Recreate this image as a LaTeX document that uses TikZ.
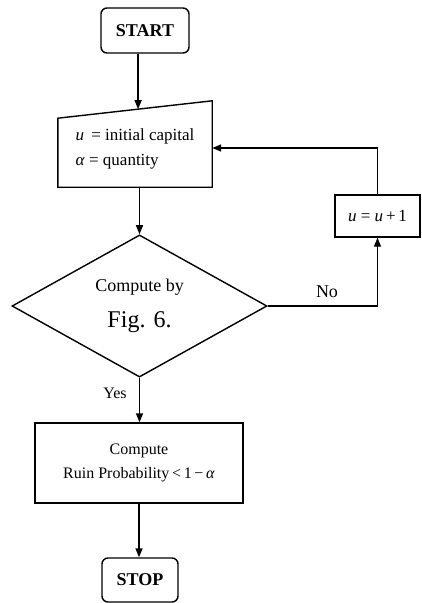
\documentclass[tikz,border=0pt]{standalone}
\usepackage{fontspec}
\setmainfont{Liberation Serif}
\usetikzlibrary{shapes.geometric,arrows.meta,calc}

\begin{document}
\begin{tikzpicture}[
		x=1pt, y=-1pt,
		font=\fontsize{17}{25}\selectfont,
		term/.style={draw, rounded corners=6pt, line width=1.4pt, inner sep=0pt,
			font=\fontsize{18}{20}\selectfont\bfseries},
		box/.style={draw, line width=1.4pt, align=center, inner sep=0pt},
		arr/.style={-{Triangle[length=9pt, width=7pt]}, line width=1.4pt}
		]
		\useasboundingbox (0,0) rectangle (422,603);
		\node[term, minimum width=88pt, minimum height=45pt] (start) at (145,30.5) {START};
		% input block (slanted top drawn below)
		\node[minimum width=154pt, minimum height=86pt, inner sep=0pt] (inp) at (135,144) {};
		\node[align=left, inner sep=0pt] (inptxt) at (135,149)
		{\textit{u}\, = initial capital\\\textit{α} = quantity};
		\draw[line width=1.4pt] ($(inp.south west)+(0,-69)$) -- (inp.north east)
			-- (inp.south east) -- (inp.south west) -- cycle;
		\coordinate (intop) at ($($(inp.south west)+(0,-69)$)!0.52!(inp.north east)$);
		\node[draw, diamond, line width=1.4pt, minimum width=255pt, minimum height=134pt,
			inner sep=0pt, align=center, font=\fontsize{18}{36}\selectfont] (dec) at (139.5,306)
		{Compute by\\{\fontsize{24}{26}\selectfont Fig. 6.}};
		\node[box, minimum width=85pt, minimum height=42pt] (inc) at (377.5,216)
		{\textit{u} = \textit{u}\,+\,1};
		\node[box, minimum width=208pt, minimum height=80pt,
			font=\fontsize{16}{24}\selectfont] (comp) at (139,463)
		{Compute\\Ruin Probability\,<\,1\,−\,\textit{α}};
		\node[term, minimum width=76pt, minimum height=44pt] (stop) at (140,580) {STOP};
		\draw[arr] (start.south -| intop) -- (intop);
		\draw[arr] (inp.south -| dec.north) -- (dec.north);
		\draw[arr] (dec.south) -- (comp.north -| dec.south);
		\draw[arr] (comp.south) -- (stop.north -| comp.south);
		\draw[arr] (dec.east) -| (inc.south);
		\draw[arr] (inc.north) |- ([yshift=-4pt]inp.east);
		\node[font=\fontsize{18}{20}\selectfont] (no) at (327,292) {No};
		\node[font=\fontsize{16}{18}\selectfont] (yes) at (115,393) {Yes};
	\end{tikzpicture}
\end{document}
